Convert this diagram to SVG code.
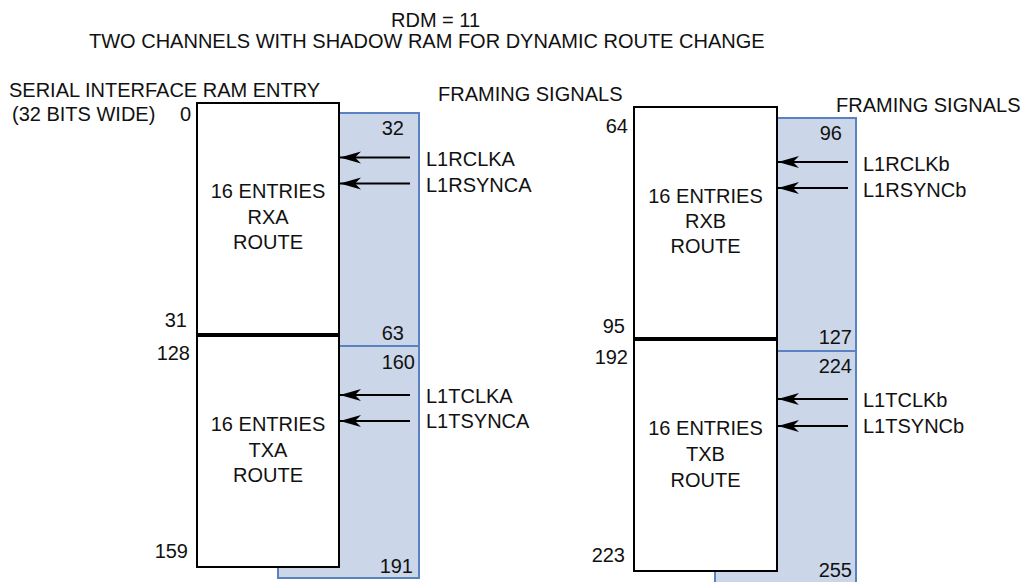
<svg xmlns="http://www.w3.org/2000/svg" width="1022" height="582" viewBox="0 0 1022 582">
<style>
text{font-family:"Liberation Sans",Arial,sans-serif;font-size:20px;fill:#111}
.e{text-anchor:end}
.m{text-anchor:middle}
.ram{fill:#fff;stroke:#000;stroke-width:2}
.shadow{fill:#cbd6e8;stroke:#5b82c0;stroke-width:2}
.arr{stroke:#000;stroke-width:2;fill:none;marker-end:url(#ah)}
</style>
<defs>
<marker id="ah" viewBox="0 -7 22 14" markerWidth="22" markerHeight="14" refX="21" refY="0" orient="auto" markerUnits="userSpaceOnUse">
<path d="M0,-6 L21,0 L0,6 L6,0 Z" fill="#000"/>
</marker>
</defs>
<g id="titles">
<text x="391" y="27">RDM = 11</text>
<text x="89" y="48">TWO CHANNELS WITH SHADOW RAM FOR DYNAMIC ROUTE CHANGE</text>
<text x="9" y="97">SERIAL INTERFACE RAM ENTRY</text>
<text x="12" y="121">(32 BITS WIDE)</text>
<text x="438" y="101">FRAMING SIGNALS</text>
<text x="836" y="112">FRAMING SIGNALS</text>
</g>
<g id="shadow-rxa">
<rect class="shadow" x="278" y="113" width="141" height="233"/>
<text class="e" x="404" y="135">32</text>
<text class="e" x="404" y="340">63</text>
</g>
<g id="shadow-txa">
<rect class="shadow" x="278" y="346" width="141" height="232"/>
<text class="e" x="415" y="369">160</text>
<text class="e" x="413" y="573">191</text>
</g>
<g id="shadow-rxb">
<rect class="shadow" x="715" y="118" width="141" height="233"/>
<text class="e" x="842" y="140">96</text>
<text class="e" x="852" y="344">127</text>
</g>
<g id="shadow-txb">
<rect class="shadow" x="715" y="351" width="141" height="240"/>
<text class="e" x="852" y="373">224</text>
<text class="e" x="852" y="577">255</text>
</g>
<g id="rxa">
<rect class="ram" x="197" y="103" width="142" height="231"/>
<text class="e" x="191" y="121">0</text>
<text class="e" x="187" y="327">31</text>
<text class="m" x="268" y="198">16 ENTRIES</text>
<text class="m" x="268" y="223.5">RXA</text>
<text class="m" x="268" y="249">ROUTE</text>
</g>
<g id="txa">
<rect class="ram" x="197" y="336" width="142" height="231"/>
<text class="e" x="190" y="360">128</text>
<text class="e" x="188" y="558">159</text>
<text class="m" x="268" y="430.5">16 ENTRIES</text>
<text class="m" x="268" y="456.5">TXA</text>
<text class="m" x="268" y="482">ROUTE</text>
</g>
<g id="rxb">
<rect class="ram" x="634" y="107" width="143" height="231"/>
<text class="e" x="628" y="133">64</text>
<text class="e" x="625" y="333">95</text>
<text class="m" x="705.5" y="202.5">16 ENTRIES</text>
<text class="m" x="705.5" y="228">RXB</text>
<text class="m" x="705.5" y="253">ROUTE</text>
</g>
<g id="txb">
<rect class="ram" x="634" y="340" width="143" height="231"/>
<text class="e" x="628" y="364">192</text>
<text class="e" x="625" y="562">223</text>
<text class="m" x="705.5" y="435">16 ENTRIES</text>
<text class="m" x="705.5" y="461">TXB</text>
<text class="m" x="705.5" y="487">ROUTE</text>
</g>
<g id="signals">
<text x="426" y="166">L1RCLKA</text>
<text x="426" y="192">L1RSYNCA</text>
<text x="426" y="402.5">L1TCLKA</text>
<text x="426" y="428">L1TSYNCA</text>
<text x="863" y="170.5">L1RCLKb</text>
<text x="863" y="196.5">L1RSYNCb</text>
<text x="863" y="407">L1TCLKb</text>
<text x="863" y="433">L1TSYNCb</text>
</g>
<g id="connectors">
<line class="arr" x1="410" y1="157.5" x2="340" y2="157.5"/>
<line class="arr" x1="410" y1="183.5" x2="340" y2="183.5"/>
<line class="arr" x1="410" y1="395" x2="340" y2="395"/>
<line class="arr" x1="410" y1="421" x2="340" y2="421"/>
<line class="arr" x1="848" y1="162" x2="778" y2="162"/>
<line class="arr" x1="848" y1="188" x2="778" y2="188"/>
<line class="arr" x1="848" y1="399" x2="778" y2="399"/>
<line class="arr" x1="848" y1="426" x2="778" y2="426"/>
</g>
</svg>
